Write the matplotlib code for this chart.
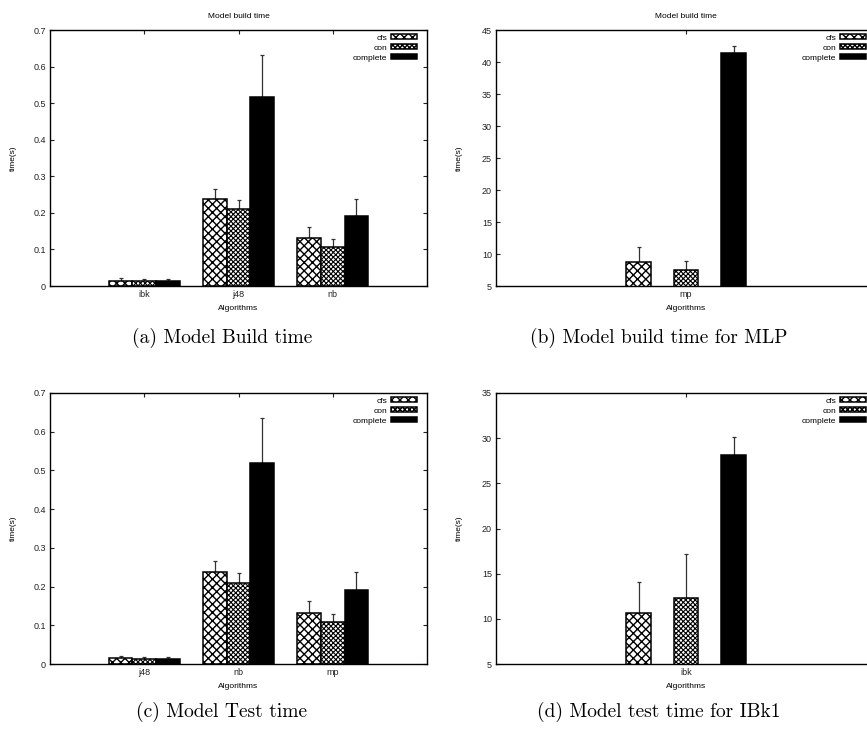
import matplotlib
matplotlib.use("Agg")
import matplotlib.pyplot as plt
import matplotlib.transforms as mtrans
import numpy as np

#===============================
# Data
#===============================

series = ["cfs", "con", "complete"]

# (a) model build time
cats_a = ["ibk", "j48", "nb"]
cfs_a = [0.015, 0.237, 0.132]
con_a = [0.014, 0.210, 0.108]
com_a = [0.014, 0.518, 0.191]
cfs_a_err = [0.006, 0.027, 0.030]
con_a_err = [0.005, 0.025, 0.021]
com_a_err = [0.005, 0.115, 0.046]

# (b) model build time for MLP
cats_b = ["mp"]
cfs_b = [8.70]
con_b = [7.45]
com_b = [41.35]
cfs_b_err = [2.40]
con_b_err = [1.40]
com_b_err = [1.15]

# (c) model test time
cats_c = ["j48", "nb", "mp"]
cfs_c = [0.0155, 0.238, 0.132]
con_c = [0.014, 0.210, 0.108]
com_c = [0.014, 0.518, 0.192]
cfs_c_err = [0.005, 0.027, 0.031]
con_c_err = [0.005, 0.025, 0.022]
com_c_err = [0.005, 0.117, 0.046]

# (d) model test time for IBk1
cats_d = ["ibk"]
cfs_d = [10.65]
con_d = [12.27]
com_d = [28.14]
cfs_d_err = [3.43]
con_d_err = [4.94]
com_d_err = [1.99]

yticks_small = [0, 0.1, 0.2, 0.3, 0.4, 0.5, 0.6, 0.7]
ytick_small_labels = ["0", "0.1", "0.2", "0.3", "0.4", "0.5", "0.6", "0.7"]
yticks_b = [5, 10, 15, 20, 25, 30, 35, 40, 45]
yticks_d = [5, 10, 15, 20, 25, 30, 35]

captions = ["(a) Model Build time", "(b) Model build time for MLP",
            "(c) Model Test time", "(d) Model test time for IBk1"]

#===============================
# Style
#===============================

plt.rcParams["font.family"] = ["Liberation Sans", "DejaVu Sans"]
small = 6
tick_size = 6.5

hatches = ["xxxx", "xxxxxxx", None]
hatch_lw = [1.0, 0.8, 1.0]
faces = ["white", "white", "black"]

W, H = 867, 729
fig = plt.figure(figsize=(W / 100, H / 100), dpi=100)


def make_axes(x0, y_top, w, h):
    return fig.add_axes([x0 / W, 1 - (y_top + h) / H, w / W, h / H])


def panel(ax, cats, vals, errs, width, offsets, xlim, ylim, yticks, ylabels,
          title, xlabel, axw):
    x = np.arange(len(cats))
    for i in range(3):
        plt.rcParams["hatch.linewidth"] = hatch_lw[i]
        ax.bar(x + offsets[i], vals[i], width, color=faces[i], edgecolor="black",
               hatch=hatches[i], linewidth=1.1, label=series[i], zorder=2)
        ax.errorbar(x + offsets[i], vals[i], yerr=[np.zeros(len(cats)), errs[i]],
                    fmt="none", ecolor="#333333", elinewidth=0.9, capsize=1.5,
                    capthick=0.9, zorder=1)
    ax.set_xlim(*xlim)
    ax.set_ylim(*ylim)
    ax.set_xticks(x)
    ax.set_xticklabels(cats, fontsize=tick_size)
    ax.set_yticks(yticks)
    ax.set_yticklabels(ylabels, fontsize=tick_size)
    ax.tick_params(direction="in", length=3, width=0.8, top=True, right=True,
                   pad=3, colors="#222222")
    for s in ax.spines.values():
        s.set_linewidth(1.0)
    ax.set_ylabel("time(s)", fontsize=small)
    ax.yaxis.set_label_coords(-33 / axw, 0.5)
    if title:
        ax.set_title(title, fontsize=small, pad=9)
    if xlabel:
        ax.set_xlabel(xlabel, fontsize=small, labelpad=4)
    off = mtrans.ScaledTranslation(-10 / 100, -4 / 100, fig.dpi_scale_trans)
    ax.legend(loc="upper right", bbox_to_anchor=(1, 1),
              bbox_transform=ax.transAxes + off, frameon=False, fontsize=small,
              markerfirst=False, handlelength=3.1, handleheight=0.6,
              handletextpad=0.5, labelspacing=0.3, borderpad=0, borderaxespad=0)


ax_a = make_axes(50, 30, 377, 256)
panel(ax_a, cats_a, [cfs_a, con_a, com_a], [cfs_a_err, con_a_err, com_a_err],
      0.25, [-0.25, 0, 0.25], (-1, 3), (0, 0.7), yticks_small, ytick_small_labels,
      "Model build time", "Algorithms", 377)

ax_b = make_axes(496, 30, 380, 256)
panel(ax_b, cats_b, [cfs_b, con_b, com_b], [cfs_b_err, con_b_err, com_b_err],
      0.13, [-0.25, 0, 0.25], (-1, 1), (5, 45), yticks_b,
      [str(t) for t in yticks_b], "Model build time", "Algorithms", 380)

ax_c = make_axes(50, 393, 377, 271)
panel(ax_c, cats_c, [cfs_c, con_c, com_c], [cfs_c_err, con_c_err, com_c_err],
      0.25, [-0.25, 0, 0.25], (-1, 3), (0, 0.7), yticks_small, ytick_small_labels,
      None, "Algorithms", 377)

ax_d = make_axes(496, 393, 380, 271)
panel(ax_d, cats_d, [cfs_d, con_d, com_d], [cfs_d_err, con_d_err, com_d_err],
      0.13, [-0.25, 0, 0.25], (-1, 1), (5, 35), yticks_d,
      [str(t) for t in yticks_d], None, "Algorithms", 380)

# captions under each panel
cap_pos = [(222, 338), (659, 338), (222, 712), (659, 712)]
for (cx, cy), text in zip(cap_pos, captions):
    fig.text(cx / W, 1 - cy / H, text, ha="center", va="center",
             fontsize=14, fontfamily="cmr10")

fig.savefig("out.png", dpi=100)
